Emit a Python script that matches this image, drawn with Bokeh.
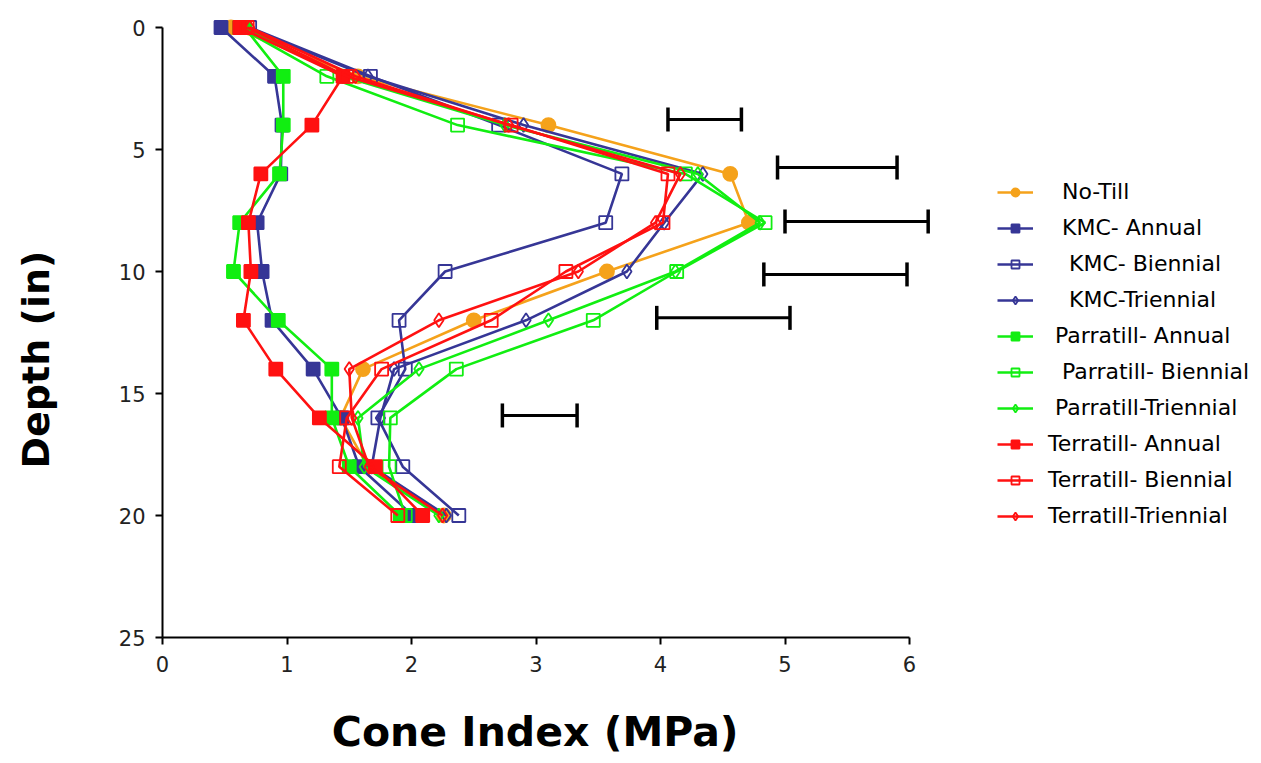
import numpy as np
from bokeh.plotting import figure
from bokeh.models import Range1d, FixedTicker, Legend, LegendItem
from bokeh.embed import file_html
from bokeh.resources import INLINE

depth = [0, 2, 4, 6, 8, 10, 12, 14, 16, 18, 20]

no_till        = [0.55, 1.57, 3.10, 4.56, 4.71, 3.57, 2.50, 1.61, 1.43, 1.65, 2.26]
kmc_annual     = [0.47, 0.90, 0.96, 0.95, 0.76, 0.80, 0.88, 1.21, 1.44, 1.58, 2.01]
kmc_biennial   = [0.70, 1.67, 2.70, 3.69, 3.56, 2.27, 1.90, 1.95, 1.73, 1.93, 2.38]
kmc_triennial  = [0.68, 1.65, 2.90, 4.34, 4.03, 3.73, 2.92, 1.86, 1.75, 1.68, 2.28]
parr_annual    = [0.66, 0.97, 0.97, 0.94, 0.62, 0.57, 0.93, 1.36, 1.36, 1.50, 1.91]
parr_biennial  = [0.62, 1.32, 2.37, 4.20, 4.84, 4.13, 3.46, 2.36, 1.83, 1.82, 1.95]
parr_triennial = [0.66, 1.45, 2.75, 4.30, 4.80, 4.12, 3.10, 2.06, 1.57, 1.62, 2.22]
terr_annual    = [0.62, 1.45, 1.20, 0.79, 0.69, 0.71, 0.65, 0.91, 1.26, 1.71, 2.09]
terr_biennial  = [0.68, 1.48, 2.80, 4.06, 4.02, 3.24, 2.64, 1.76, 1.48, 1.42, 1.89]
terr_triennial = [0.70, 1.55, 2.78, 4.16, 3.96, 3.34, 2.22, 1.50, 1.52, 1.66, 2.25]

# LSD bars
lsd_depth = [3.77, 5.74, 7.95, 10.12, 11.9, 15.9]
lsd_left  = [4.06, 4.94, 5.00, 4.83, 3.97, 2.73]
lsd_right = [4.65, 5.90, 6.15, 5.98, 5.04, 3.33]

x_ticks = [0, 1, 2, 3, 4, 5, 6]
y_ticks = [0, 5, 10, 15, 20, 25]
x_title = "Cone Index (MPa)"
y_title = "Depth (in)"

labels = ["  No-Till", "  KMC- Annual", "   KMC- Biennial", "   KMC-Triennial",
          " Parratill- Annual", "  Parratill- Biennial", " Parratill-Triennial",
          "Terratill- Annual", "Terratill- Biennial", "Terratill-Triennial"]

ORANGE = "#F5A21B"
BLUE = "#363696"
GREEN = "#11EE11"
RED = "#FF1111"

data = [no_till, kmc_annual, kmc_biennial, kmc_triennial, parr_annual,
        parr_biennial, parr_triennial, terr_annual, terr_biennial, terr_triennial]
colors = [ORANGE, BLUE, BLUE, BLUE, GREEN, GREEN, GREEN, RED, RED, RED]
markers = ["circle", "square", "square", "diamond", "square", "square", "diamond",
           "square", "square", "diamond"]
filled = [True, True, False, False, True, False, False, True, False, False]
sizes = [14, 13, 13, 14, 13, 13, 14, 13, 13, 14]

W, H = 1253, 763
left, top, bottom = 162, 15, 126
frame_w = W - left - 3
px_per_x = 124.5
px_per_y = 24.4
p = figure(width=W, height=H, output_backend="svg", toolbar_location=None,
           x_range=Range1d(0, frame_w / px_per_x),
           y_range=Range1d(25, -(12 / px_per_y)),
           min_border_left=left, min_border_right=3,
           min_border_top=top, min_border_bottom=bottom)
p.outline_line_color = None
p.grid.visible = False
p.background_fill_color = "white"

items = []
for label, vals, color, marker, fill, size in zip(labels, data, colors, markers, filled, sizes):
    r1 = p.line(vals, depth, line_color=color, line_width=2.6)
    r2 = p.scatter(vals, depth, marker=marker, size=size, line_color=color,
                   line_width=1.8, fill_color=color, fill_alpha=1.0 if fill else 0.0)
    items.append(LegendItem(label=label, renderers=[r1, r2]))

p.segment(x0=lsd_left, y0=lsd_depth, x1=lsd_right, y1=lsd_depth,
          line_color="black", line_width=3)
p.scatter(lsd_left, lsd_depth, marker="dash", angle=np.pi / 2, size=24,
          line_color="black", line_width=3.5)
p.scatter(lsd_right, lsd_depth, marker="dash", angle=np.pi / 2, size=24,
          line_color="black", line_width=3.5)

xa = p.xaxis[0]
xa.bounds = (0, 6)
xa.ticker = FixedTicker(ticks=x_ticks)
ya = p.yaxis[0]
ya.bounds = (0, 25)
ya.ticker = FixedTicker(ticks=y_ticks)
for ax in (xa, ya):
    ax.axis_line_width = 2
    ax.axis_line_color = "black"
    ax.major_tick_line_width = 2
    ax.major_tick_line_color = "black"
    ax.major_tick_out = 7
    ax.major_tick_in = 0
    ax.minor_tick_line_color = None
    ax.major_label_text_font = "DejaVu Sans"
    ax.major_label_text_font_size = "21px"
    ax.major_label_text_color = "#222222"
    ax.axis_label_text_font = "DejaVu Sans"
    ax.axis_label_text_font_style = "bold"
    ax.axis_label_text_color = "black"
xa.major_label_standoff = 11
ya.major_label_standoff = 10
# trailing no-break spaces nudge the centred titles to where the reference has them
# (the frame runs on under the legend, so the x title is centred under the 0-6 axis this way)
xa.axis_label = x_title + "\u00a0" * 24
xa.axis_label_text_font_size = "41px"
xa.axis_label_standoff = 33
ya.axis_label = y_title + "\u00a0" * 5
ya.axis_label_text_font_size = "38px"
ya.axis_label_standoff = 58

legend = Legend(items=items, location=(835, 109), orientation="vertical",
                glyph_width=36, glyph_height=20, label_height=20, spacing=11,
                label_standoff=15, padding=0, margin=0,
                border_line_color=None, background_fill_alpha=0,
                label_text_font="DejaVu Sans", label_text_font_size="22px",
                label_text_color="black")
p.add_layout(legend, "center")

open("out.html", "w").write(file_html(p, INLINE))
